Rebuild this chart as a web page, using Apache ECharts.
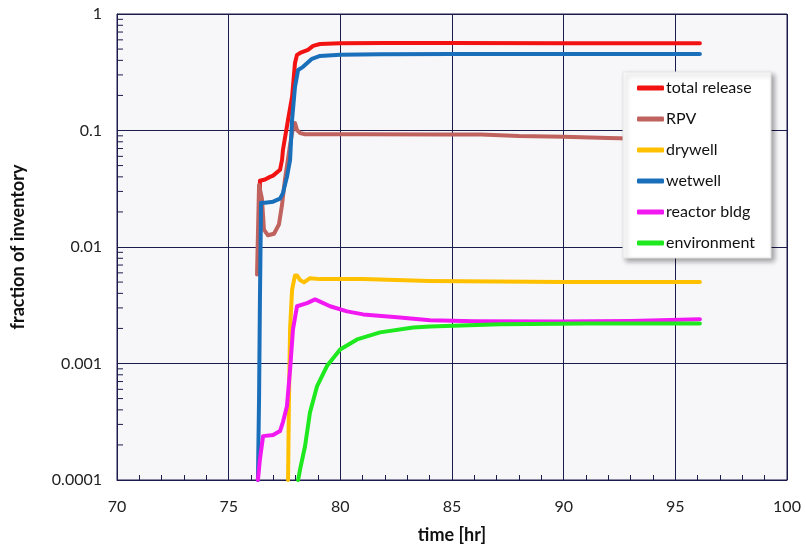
<!DOCTYPE html>
<html>
<head>
<meta charset="utf-8">
<script src="https://cdn.jsdelivr.net/npm/echarts@6/dist/echarts.min.js"></script>
<style>
html,body{margin:0;padding:0;background:#fff;}
#chart{width:806px;height:549px;}
</style>
</head>
<body>
<div id="chart"></div>
<script>
// ---- data ----
const seriesNames = ['total release', 'RPV', 'drywell', 'wetwell', 'reactor bldg', 'environment'];
const xTickLabels = ['70', '75', '80', '85', '90', '95', '100'];
const yTickLabels = ['0.0001', '0.001', '0.01', '0.1', '1'];

const tTotal = [76.38, 76.40, 76.63, 76.85, 76.99, 77.30, 77.39, 77.43, 77.66, 77.84, 77.97, 78.06, 78.20, 78.55, 78.78, 79.09, 79.99, 82.0, 85.0, 90.0, 96.1];
const vTotal = [0.012, 0.037, 0.038, 0.040, 0.041, 0.046, 0.056, 0.068, 0.124, 0.195, 0.38, 0.446, 0.463, 0.492, 0.532, 0.553, 0.56, 0.563, 0.563, 0.562, 0.56];

const tRPV = [76.27, 76.36, 76.49, 76.58, 76.76, 77.03, 77.25, 77.39, 77.52, 77.75, 77.88, 77.97, 78.06, 78.20, 78.42, 79.09, 81.0, 84.5, 86.3, 88.0, 90.0, 92.0, 93.0, 96.1];
const vRPV = [0.0058, 0.034, 0.026, 0.0141, 0.0126, 0.0130, 0.0156, 0.0231, 0.038, 0.0755, 0.106, 0.116, 0.101, 0.095, 0.093, 0.093, 0.093, 0.0925, 0.0925, 0.0896, 0.0885, 0.0862, 0.0855, 0.085];

const tDrywell = [77.66, 77.70, 77.75, 77.84, 77.97, 78.06, 78.20, 78.37, 78.64, 79.09, 81.0, 84.0, 90.0, 96.1];
const vDrywell = [0.0001, 0.00049, 0.0020, 0.0043, 0.0057, 0.0057, 0.0052, 0.00497, 0.0054, 0.0053, 0.0053, 0.0051, 0.0050, 0.0050];

const tWetwell = [76.31, 76.36, 76.40, 76.45, 76.63, 76.99, 77.30, 77.43, 77.61, 77.75, 77.84, 77.97, 78.11, 78.33, 78.73, 79.09, 79.99, 81.78, 85.0, 90.0, 96.1];
const vWetwell = [0.0001, 0.00049, 0.0035, 0.024, 0.024, 0.0245, 0.026, 0.029, 0.040, 0.056, 0.124, 0.237, 0.331, 0.352, 0.412, 0.437, 0.446, 0.452, 0.454, 0.454, 0.453];

const tReactor = [76.31, 76.40, 76.54, 76.99, 77.30, 77.43, 77.61, 77.75, 77.88, 78.06, 78.51, 78.87, 79.09, 79.54, 80.30, 81.02, 82.54, 84.02, 86.0, 89.84, 93.0, 96.1];
const vReactor = [0.0001, 0.000151, 0.000238, 0.000243, 0.000263, 0.000314, 0.00043, 0.00089, 0.00196, 0.0031, 0.0033, 0.00355, 0.0034, 0.0031, 0.0028, 0.00264, 0.00249, 0.00235, 0.0023, 0.00229, 0.00232, 0.0024];

const tEnv = [78.11, 78.20, 78.42, 78.64, 78.96, 79.40, 79.99, 80.75, 81.78, 83.26, 84.02, 87.15, 91.0, 96.1];
const vEnv = [0.0001, 0.000124, 0.000195, 0.00038, 0.00064, 0.00095, 0.00132, 0.00161, 0.00185, 0.00204, 0.00208, 0.00217, 0.0022, 0.0022];

const colors = ['#f21212', '#c0625e', '#ffc000', '#1a6fba', '#f218f2', '#1ee81e'];
// ---- end data ----

const times = [tTotal, tRPV, tDrywell, tWetwell, tReactor, tEnv];
const vals = [vTotal, vRPV, vDrywell, vWetwell, vReactor, vEnv];

const lineSeries = seriesNames.map((name, i) => ({
  name: name,
  type: 'line',
  showSymbol: false,
  symbol: 'none',
  smooth: false,
  data: times[i].map((t, j) => [t, vals[i][j]]),
  lineStyle: { color: colors[i], width: 4, cap: 'round', join: 'round' },
  itemStyle: { color: colors[i] },
  z: 2 + i
}));

// log-spaced minor ticks on the left axis (2..9 within each decade)
const minorVals = [];
for (let e = -4; e < 0; e++) {
  for (let k = 2; k <= 9; k++) minorVals.push(k * Math.pow(10, e));
}
const minorTickSeries = {
  type: 'custom',
  silent: true,
  z: 10,
  data: minorVals.map(v => [70, v]),
  renderItem: function (params, api) {
    const p = api.coord([api.value(0), api.value(1)]);
    return {
      type: 'line',
      shape: { x1: p[0], y1: p[1], x2: p[0] + 6, y2: p[1] },
      style: { stroke: '#1c1c4c', lineWidth: 1 }
    };
  }
};

const navy = '#1c1c4c';
const font = 'Lato, "Open Sans", sans-serif';

const option = {
  animation: false,
  backgroundColor: '#ffffff',
  grid: {
    left: 117, right: 19, top: 14, bottom: 68,
    show: true, backgroundColor: '#f7f7fa', borderColor: navy, borderWidth: 1
  },
  legend: {
    data: seriesNames,
    orient: 'vertical',
    left: 623, top: 72,
    padding: [7, 16, 6, 14],
    itemGap: 13,
    itemWidth: 27,
    itemHeight: 5,
    icon: 'roundRect',
    backgroundColor: '#ffffff',
    borderColor: '#e4e4e4',
    borderWidth: 1,
    shadowColor: 'rgba(0,0,0,0.35)',
    shadowBlur: 5,
    shadowOffsetX: 3,
    shadowOffsetY: 3,
    textStyle: { fontFamily: font, fontSize: 16, color: '#111', lineHeight: 18, padding: [0, 0, 0, -3] }
  },
  xAxis: {
    type: 'value',
    min: 70, max: 100, interval: 5,
    name: 'time [hr]',
    nameLocation: 'middle',
    nameGap: 46,
    nameTextStyle: { fontFamily: font, fontSize: 18, fontWeight: 'bold', color: '#111' },
    axisLine: { show: true, lineStyle: { color: navy, width: 1 } },
    axisTick: { show: true, inside: true, length: 6, lineStyle: { color: navy } },
    minorTick: { show: true, splitNumber: 5, length: 5, lineStyle: { color: navy } },
    axisLabel: {
      fontFamily: font, fontSize: 16, color: '#222', margin: 19,
      formatter: v => xTickLabels[Math.round((v - 70) / 5)]
    },
    splitLine: { show: true, lineStyle: { color: navy, width: 1 } }
  },
  yAxis: {
    type: 'log',
    logBase: 10,
    min: 0.0001, max: 1,
    name: 'fraction of inventory',
    nameLocation: 'middle',
    nameGap: 90,
    nameTextStyle: { fontFamily: font, fontSize: 18, fontWeight: 'bold', color: '#111' },
    axisLine: { show: true, lineStyle: { color: navy, width: 1 } },
    axisTick: { show: true, inside: true, length: 7, lineStyle: { color: navy } },
    axisLabel: {
      fontFamily: font, fontSize: 16, color: '#222', margin: 15,
      formatter: v => yTickLabels[Math.round(Math.log10(v)) + 4]
    },
    splitLine: { show: true, lineStyle: { color: navy, width: 1 } }
  },
  series: lineSeries.concat([minorTickSeries])
};

const chart = echarts.init(document.getElementById('chart'), null, { renderer: 'canvas' });
chart.setOption(option);
</script>
</body>
</html>
